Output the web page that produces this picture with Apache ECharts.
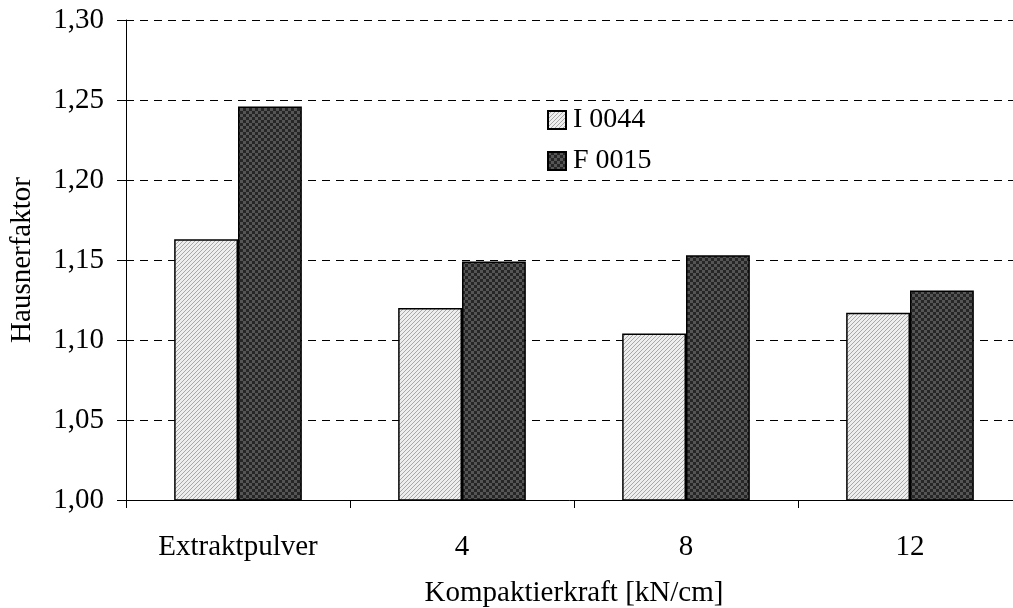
<!DOCTYPE html>
<html>
<head>
<meta charset="utf-8">
<script src="https://cdn.jsdelivr.net/npm/echarts@6/dist/echarts.min.js"></script>
<style>
  html, body { margin: 0; padding: 0; background: #fff; }
  #chart { width: 1013px; height: 608px; }
</style>
</head>
<body>
<div id="chart"></div>
<script>
// Kategorien und Messwerte
const categories = ['Extraktpulver', '4', '8', '12'];
const seriesNames = ['I 0044', 'F 0015'];
const valuesI0044 = [1.163, 1.120, 1.104, 1.117];
const valuesF0015 = [1.246, 1.149, 1.153, 1.131];

// Schraffur fuer helle Balken
function hatchPattern() {
    const c = document.createElement('canvas');
    c.width = 4; c.height = 4;
    const ctx = c.getContext('2d');
    ctx.fillStyle = '#eeeeee';
    ctx.fillRect(0, 0, 4, 4);
    ctx.fillStyle = '#a8a8a8';
    for (let i = 0; i < 4; i++) {
        ctx.fillRect(i, 3 - i, 1, 1);
    }
    return c;
}

// Schachbrettmuster fuer dunkle Balken
function checkerPattern() {
    const c = document.createElement('canvas');
    c.width = 6; c.height = 6;
    const ctx = c.getContext('2d');
    ctx.fillStyle = '#262626';
    ctx.fillRect(0, 0, 6, 6);
    ctx.fillStyle = '#555555';
    ctx.fillRect(0, 0, 3, 3);
    ctx.fillRect(3, 3, 3, 3);
    return c;
}

const font = 'Liberation Serif, Times New Roman, serif';
const chart = echarts.init(document.getElementById('chart'));

const option = {
    animation: false,
    backgroundColor: '#fff',
    textStyle: { fontFamily: font, color: '#000' },
    grid: { left: 126, top: 20, width: 896, height: 480, outerBoundsMode: 'none', containLabel: false },
    legend: {
        orient: 'vertical',
        left: 542,
        top: 101,
        itemWidth: 18,
        itemHeight: 18,
        itemGap: 13,
        icon: 'rect',
        textStyle: { fontFamily: font, fontSize: 28, color: '#000', padding: [0, 0, 0, 2] },
        data: seriesNames
    },
    xAxis: {
        type: 'category',
        data: categories,
        name: 'Kompaktierkraft [kN/cm]',
        nameLocation: 'middle',
        nameGap: 79,
        nameTextStyle: { fontFamily: font, fontSize: 29, color: '#000' },
        axisLine: { lineStyle: { color: '#000', width: 1 } },
        axisTick: { show: true, length: 8, lineStyle: { color: '#000' } },
        axisLabel: { fontFamily: font, fontSize: 29, color: '#000', margin: 33 },
        splitLine: { show: false }
    },
    yAxis: {
        type: 'value',
        min: 1.0,
        max: 1.3,
        interval: 0.05,
        name: 'Hausnerfaktor',
        nameLocation: 'middle',
        nameGap: 89,
        nameRotate: 90,
        nameTextStyle: { fontFamily: font, fontSize: 29, color: '#000' },
        axisLine: { show: true, lineStyle: { color: '#000', width: 1 } },
        axisTick: { show: true, inside: false, length: 9, lineStyle: { color: '#000' } },
        axisLabel: {
            fontFamily: font, fontSize: 29, color: '#000', margin: 22,
            formatter: v => v.toFixed(2).replace('.', ',')
        },
        splitLine: { show: true, lineStyle: { color: '#000', type: [8, 6], width: 1 } }
    },
    series: [
        {
            name: seriesNames[0],
            type: 'bar',
            data: valuesI0044,
            barGap: '0%',
            barCategoryGap: '43%',
            itemStyle: {
                color: { image: hatchPattern(), repeat: 'repeat' },
                borderColor: '#000',
                borderWidth: 1.5
            }
        },
        {
            name: seriesNames[1],
            type: 'bar',
            data: valuesF0015,
            barGap: '0%',
            barCategoryGap: '43%',
            itemStyle: {
                color: { image: checkerPattern(), repeat: 'repeat' },
                borderColor: '#000',
                borderWidth: 1.5
            }
        }
    ]
};

chart.setOption(option);
</script>
</body>
</html>
